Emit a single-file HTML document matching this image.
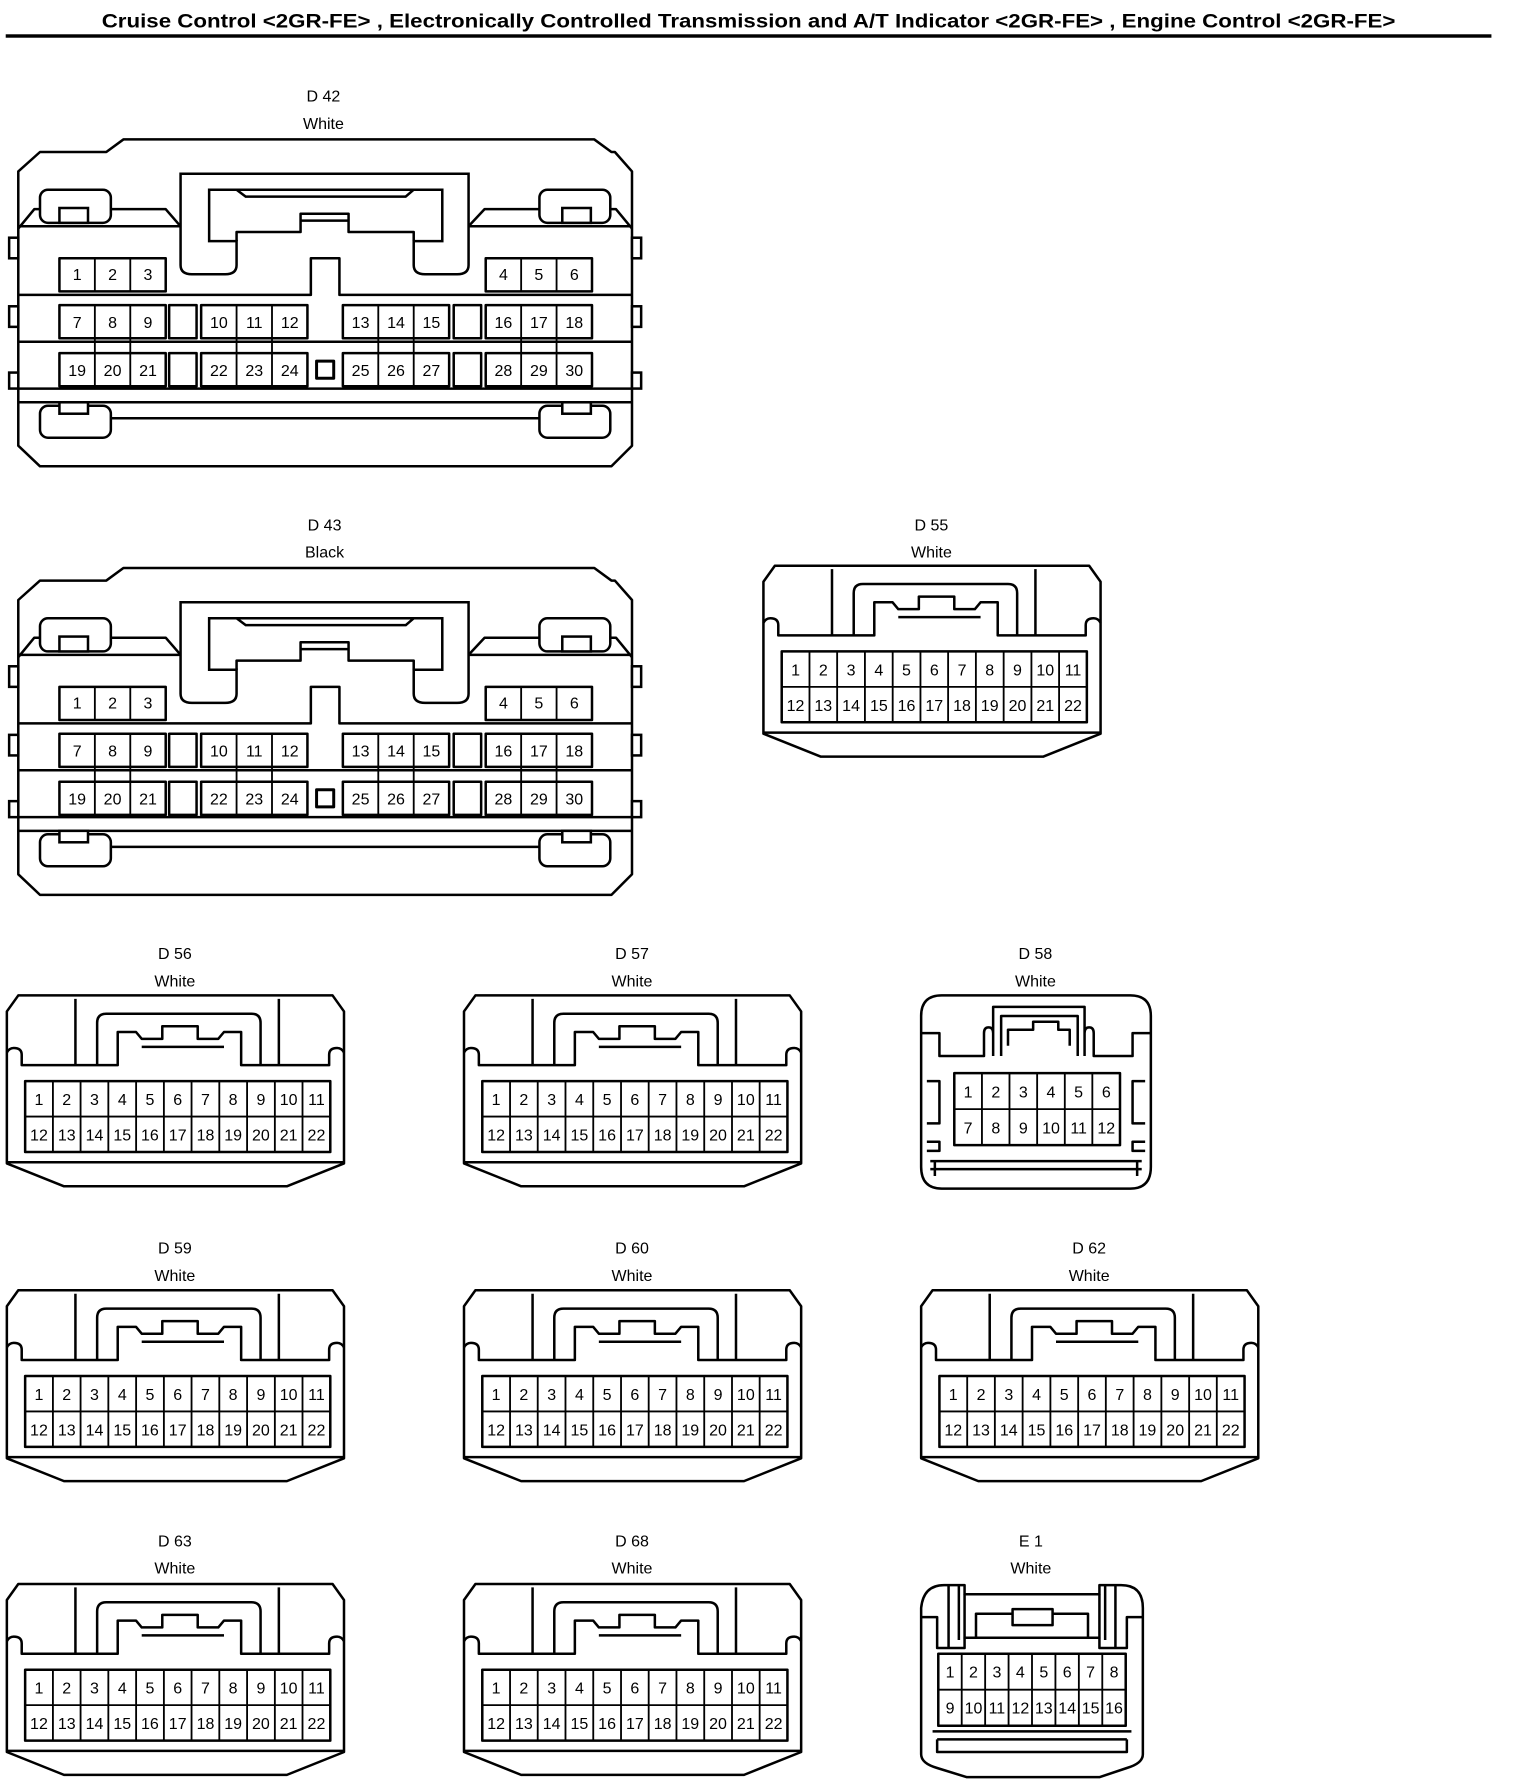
<!DOCTYPE html>
<html><head><meta charset="utf-8"><style>
html,body{margin:0;padding:0;background:#fff}
svg{display:block}
text{font-family:"Liberation Sans Narrow","Liberation Sans",sans-serif;fill:#000}
.p{font-size:14px;text-anchor:middle}
.l{font-size:14px;text-anchor:middle}
.s{fill:none;stroke:#000;stroke-width:2.2;stroke-linejoin:round}
.t{fill:none;stroke:#000;stroke-width:1.6}
.w{fill:#fff;stroke:#000;stroke-width:2.2}
</style></head><body>
<svg width="1520" height="1788" viewBox="0 0 1330 1564.5" preserveAspectRatio="none" xmlns="http://www.w3.org/2000/svg">
<defs>
<g id="c22">
<path class="s" d="M0,14 L10,0 H285 L295,14 V147 L245,167 H50 L0,147 Z"/>
<path class="s" d="M0,146 H295"/>
<path class="s" d="M0,50 Q2,46 6,46 Q13,46 13,52 V61 H97 V32 H113 L118,38 H136 V27 H167 V38 H185 L190,32 H205 V61 H282 V52 Q282,46 289,46 Q293,46 295,50"/>
<path class="s" d="M118,45 H190"/>
<path class="s" d="M60,3 V61 M238,3 V61"/>
<path class="s" d="M79,61 V24 Q79,16 87,16 H214 Q222,16 222,24 V61"/>
<rect class="s" x="16" y="75" width="267" height="62"/>
<path class="t" d="M16,106 H283 M40.3,75 V137 M64.5,75 V137 M88.8,75 V137 M113.1,75 V137 M137.4,75 V137 M161.6,75 V137 M185.9,75 V137 M210.2,75 V137 M234.5,75 V137 M258.7,75 V137"/>
</g>
<g id="p22">
<text class="p" x="28.1" y="96">1</text><text class="p" x="52.4" y="96">2</text><text class="p" x="76.7" y="96">3</text><text class="p" x="101" y="96">4</text><text class="p" x="125.2" y="96">5</text><text class="p" x="149.5" y="96">6</text><text class="p" x="173.8" y="96">7</text><text class="p" x="198" y="96">8</text><text class="p" x="222.3" y="96">9</text><text class="p" x="246.6" y="96">10</text><text class="p" x="270.9" y="96">11</text>
<text class="p" x="28.1" y="127">12</text><text class="p" x="52.4" y="127">13</text><text class="p" x="76.7" y="127">14</text><text class="p" x="101" y="127">15</text><text class="p" x="125.2" y="127">16</text><text class="p" x="149.5" y="127">17</text><text class="p" x="173.8" y="127">18</text><text class="p" x="198" y="127">19</text><text class="p" x="222.3" y="127">20</text><text class="p" x="246.6" y="127">21</text><text class="p" x="270.9" y="127">22</text>
</g>
<g id="c42">
<path class="s" d="M35,133 H93 L108,122 H520 L535,133 H538 L553,150 V390 L535,408 H35 L16,390 V150 Z"/>
<rect class="w" x="8" y="208" width="8" height="18"/><rect class="w" x="8" y="268" width="8" height="18"/><rect class="w" x="8" y="326" width="8" height="14"/>
<rect class="w" x="553" y="208" width="8" height="18"/><rect class="w" x="553" y="268" width="8" height="18"/><rect class="w" x="553" y="326" width="8" height="14"/>
<path class="s" d="M16,198 H158 M410,198 H553"/>
<path class="s" d="M16,200 L30,183 H145 L158,198 M553,200 L539,183 H424 L410,198"/>
<rect class="w" x="35" y="166" width="62" height="29" rx="7"/><rect class="w" x="472" y="166" width="62" height="29" rx="7"/>
<rect class="w" x="52" y="182" width="25" height="13"/><rect class="w" x="492" y="182" width="25" height="13"/>
<path class="w" d="M158,152 H410 V232 Q410,240 400,240 H372 Q362,240 362,232 V211 H387 V166 H183 V211 H207 V232 Q207,240 197,240 H168 Q158,240 158,232 Z"/>
<path class="s" d="M207,211 V203 H263 V187 H305 V203 H362 V211 M263,193 H305 M207,166 L215,172 H355 L362,166"/>
<path class="s" d="M16,258 H272 V226 H297 V258 H553 M16,299 H553 M16,340 H553 M16,352 H553 M97,366 H473"/>
<rect class="w" x="35" y="355" width="62" height="28" rx="7"/><rect class="w" x="472" y="355" width="62" height="28" rx="7"/>
<rect class="w" x="52" y="352" width="25" height="10"/><rect class="w" x="492" y="352" width="25" height="10"/>
<g class="s">
<rect x="52" y="226" width="93" height="29"/><rect x="425" y="226" width="93" height="29"/>
<rect x="52" y="267" width="93" height="29"/><rect x="148" y="267" width="24" height="29"/><rect x="176" y="267" width="93" height="29"/><rect x="300" y="267" width="93" height="29"/><rect x="397" y="267" width="24" height="29"/><rect x="425" y="267" width="93" height="29"/>
<rect x="52" y="309" width="93" height="29"/><rect x="148" y="309" width="24" height="29"/><rect x="176" y="309" width="93" height="29"/><rect x="300" y="309" width="93" height="29"/><rect x="397" y="309" width="24" height="29"/><rect x="425" y="309" width="93" height="29"/>
<rect x="277" y="316" width="15" height="15" stroke-width="2.6"/>
</g>
<path class="t" d="M83,226 V255 M114,226 V255 M456,226 V255 M487,226 V255 M83,267 V338 M114,267 V338 M207,267 V338 M238,267 V338 M331,267 V338 M362,267 V338 M456,267 V338 M487,267 V338"/>
</g>
<g id="p42">
<text class="p" x="67.5" y="245">1</text><text class="p" x="98.5" y="245">2</text><text class="p" x="129.5" y="245">3</text><text class="p" x="440.5" y="245">4</text><text class="p" x="471.5" y="245">5</text><text class="p" x="502.5" y="245">6</text>
<text class="p" x="67.5" y="287">7</text><text class="p" x="98.5" y="287">8</text><text class="p" x="129.5" y="287">9</text><text class="p" x="191.5" y="287">10</text><text class="p" x="222.5" y="287">11</text><text class="p" x="253.5" y="287">12</text><text class="p" x="315.5" y="287">13</text><text class="p" x="346.5" y="287">14</text><text class="p" x="377.5" y="287">15</text><text class="p" x="440.5" y="287">16</text><text class="p" x="471.5" y="287">17</text><text class="p" x="502.5" y="287">18</text>
<text class="p" x="67.5" y="329">19</text><text class="p" x="98.5" y="329">20</text><text class="p" x="129.5" y="329">21</text><text class="p" x="191.5" y="329">22</text><text class="p" x="222.5" y="329">23</text><text class="p" x="253.5" y="329">24</text><text class="p" x="315.5" y="329">25</text><text class="p" x="346.5" y="329">26</text><text class="p" x="377.5" y="329">27</text><text class="p" x="440.5" y="329">28</text><text class="p" x="471.5" y="329">29</text><text class="p" x="502.5" y="329">30</text>
</g>
</defs>

<text x="655" y="24" text-anchor="middle" style="font-family:'Liberation Sans',sans-serif;font-weight:bold;font-size:17px" textLength="1132" lengthAdjust="spacingAndGlyphs">Cruise Control &lt;2GR-FE&gt; , Electronically Controlled Transmission and A/T Indicator &lt;2GR-FE&gt; , Engine Control &lt;2GR-FE&gt;</text>
<rect x="5" y="30" width="1300" height="3" fill="#000"/>

<!-- D42 -->
<text class="l" x="283" y="89">D 42</text><text class="l" x="283" y="113">White</text>
<use href="#c42"/><use href="#p42"/>
<!-- D43 -->
<text class="l" x="284" y="464">D 43</text><text class="l" x="284" y="488">Black</text>
<g transform="translate(0,375)"><use href="#c42"/><use href="#p42"/></g>

<!-- D55 -->
<text class="l" x="815" y="464">D 55</text><text class="l" x="815" y="488">White</text>
<g transform="translate(668,495)"><use href="#c22"/><use href="#p22"/></g>
<!-- D56 -->
<text class="l" x="153" y="839">D 56</text><text class="l" x="153" y="863">White</text>
<g transform="translate(6,871)"><use href="#c22"/><use href="#p22"/></g>
<!-- D57 -->
<text class="l" x="553" y="839">D 57</text><text class="l" x="553" y="863">White</text>
<g transform="translate(406,871)"><use href="#c22"/><use href="#p22"/></g>
<!-- D59 -->
<text class="l" x="153" y="1097">D 59</text><text class="l" x="153" y="1121">White</text>
<g transform="translate(6,1129)"><use href="#c22"/><use href="#p22"/></g>
<!-- D60 -->
<text class="l" x="553" y="1097">D 60</text><text class="l" x="553" y="1121">White</text>
<g transform="translate(406,1129)"><use href="#c22"/><use href="#p22"/></g>
<!-- D62 -->
<text class="l" x="953" y="1097">D 62</text><text class="l" x="953" y="1121">White</text>
<g transform="translate(806,1129)"><use href="#c22"/><use href="#p22"/></g>
<!-- D63 -->
<text class="l" x="153" y="1353">D 63</text><text class="l" x="153" y="1377">White</text>
<g transform="translate(6,1386)"><use href="#c22"/><use href="#p22"/></g>
<!-- D68 -->
<text class="l" x="553" y="1353">D 68</text><text class="l" x="553" y="1377">White</text>
<g transform="translate(406,1386)"><use href="#c22"/><use href="#p22"/></g>

<!-- D58 -->
<text class="l" x="906" y="839">D 58</text><text class="l" x="906" y="863">White</text>
<g transform="translate(806,871)">
<path class="s" d="M0,18 Q0,0 18,0 H183 Q201,0 201,18 V150 Q201,169 183,169 H18 Q0,169 0,150 Z"/>
<path class="s" d="M0,33 H16 V53 H55 V33 Q55,28 59,28 Q63,28 63,33 V53 M63,53 V10 H143 V53 M143,33 Q143,28 147,28 Q151,28 151,33 V53 H185 V33 H201"/>
<path class="s" d="M70,53 V18 H137 V53 M76,44 V30 H98 V23 H120 V30 H130 V44"/>
<path class="s" d="M5,75 H16 V112 H5 M5,128 H16 V136 H5 M196,75 H185 V112 H196 M196,128 H185 V136 H196"/>
<path class="s" d="M8,145 H193 M8,152 H193 M12,145 V158 M189,145 V158"/>
<rect class="s" x="29" y="68" width="145" height="63"/>
<path class="t" d="M29,99.5 H174 M53.2,68 V131 M77.3,68 V131 M101.5,68 V131 M125.7,68 V131 M149.8,68 V131"/>
<text class="p" x="41.1" y="89.5">1</text><text class="p" x="65.3" y="89.5">2</text><text class="p" x="89.4" y="89.5">3</text><text class="p" x="113.6" y="89.5">4</text><text class="p" x="137.8" y="89.5">5</text><text class="p" x="162" y="89.5">6</text>
<text class="p" x="41.1" y="121">7</text><text class="p" x="65.3" y="121">8</text><text class="p" x="89.4" y="121">9</text><text class="p" x="113.6" y="121">10</text><text class="p" x="137.8" y="121">11</text><text class="p" x="162" y="121">12</text>
</g>

<!-- E1 -->
<text class="l" x="902" y="1353">E 1</text><text class="l" x="902" y="1377">White</text>
<g transform="translate(806,1385)">
<path class="s" d="M0,22 Q2,2 20,2 H38 V10 H156 V2 H175 Q194,2 194,22 V150 Q194,158 180,162 L156,170 H40 L14,162 Q0,158 0,150 Z"/>
<path class="s" d="M24,2 V57 M33,2 V50 M170,2 V57 M161,2 V50 M0,30 H14 V57 H38 V48 M194,30 H180 V57 H156 V48"/>
<path class="s" d="M38,10 V48 H156 V10 M48,48 V27 H80 V23 H115 V27 H146 V48 M80,27 V37 H115 V27"/>
<path class="s" d="M10,130 H184 M14,137 H180 M14,137 V148 H180 V137"/>
<rect class="s" x="15" y="62" width="164" height="63"/>
<path class="t" d="M15,93.5 H179 M35.5,62 V125 M56,62 V125 M76.5,62 V125 M97,62 V125 M117.5,62 V125 M138,62 V125 M158.5,62 V125"/>
<text class="p" x="25.3" y="83">1</text><text class="p" x="45.8" y="83">2</text><text class="p" x="66.3" y="83">3</text><text class="p" x="86.8" y="83">4</text><text class="p" x="107.3" y="83">5</text><text class="p" x="127.8" y="83">6</text><text class="p" x="148.3" y="83">7</text><text class="p" x="168.8" y="83">8</text>
<text class="p" x="25.3" y="114.5">9</text><text class="p" x="45.8" y="114.5">10</text><text class="p" x="66.3" y="114.5">11</text><text class="p" x="86.8" y="114.5">12</text><text class="p" x="107.3" y="114.5">13</text><text class="p" x="127.8" y="114.5">14</text><text class="p" x="148.3" y="114.5">15</text><text class="p" x="168.8" y="114.5">16</text>
</g>
</svg>
</body></html>
